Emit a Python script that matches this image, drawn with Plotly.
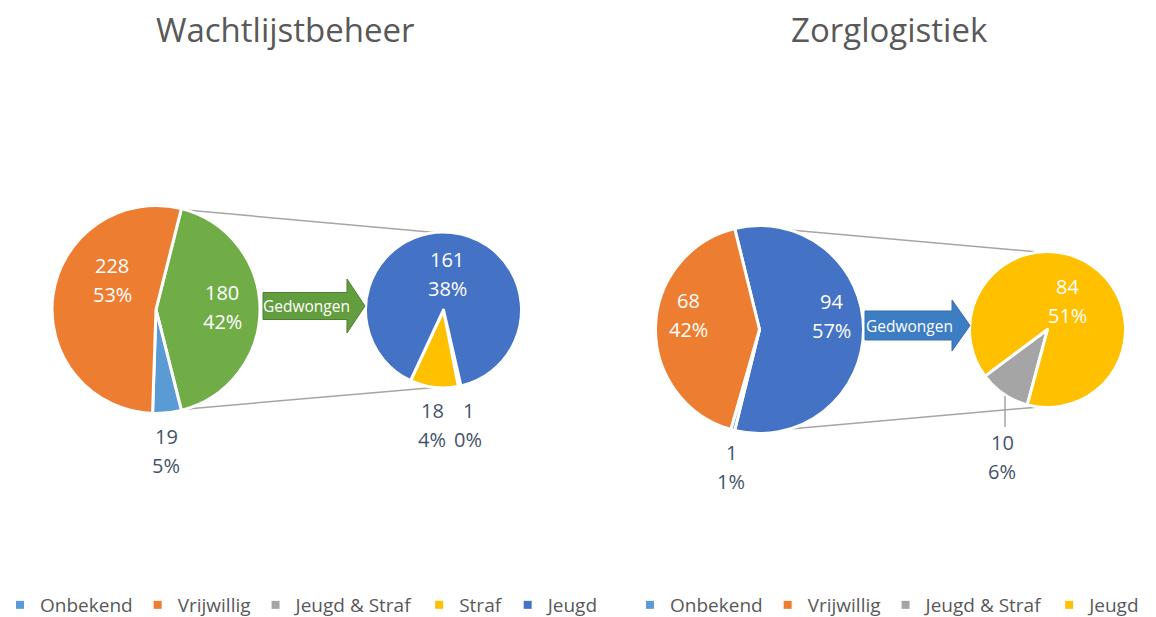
import math
import plotly.graph_objects as go

W, H = 1156, 617

# ---------------- DATA ----------------
titles = ["Wachtlijstbeheer", "Zorglogistiek"]
other_label = "Gedwongen"

l_main_labels = ["Gedwongen", "Onbekend", "Vrijwillig"]
l_main_values = [180, 19, 228]
l_main_pct = ["42%", "5%", "53%"]
l_sec_labels = ["Jeugd & Straf", "Straf", "Jeugd"]
l_sec_values = [1, 18, 161]
l_sec_pct = ["0%", "4%", "38%"]

r_main_labels = ["Gedwongen", "Onbekend", "Vrijwillig"]
r_main_values = [94, 1, 68]
r_main_pct = ["57%", "1%", "42%"]
r_sec_labels = ["Jeugd & Straf", "Jeugd"]
r_sec_values = [10, 84]
r_sec_pct = ["6%", "51%"]

legend_left = ["Onbekend", "Vrijwillig", "Jeugd & Straf", "Straf", "Jeugd"]
legend_right = ["Onbekend", "Vrijwillig", "Jeugd & Straf", "Jeugd"]

# ---------------- STYLE ----------------
colors_l = {"Onbekend": "#5B9BD5", "Vrijwillig": "#ED7D31", "Gedwongen": "#70AD47",
            "Jeugd & Straf": "#A5A5A5", "Straf": "#FFC000", "Jeugd": "#4472C4"}
colors_r = {"Onbekend": "#5B9BD5", "Vrijwillig": "#ED7D31", "Gedwongen": "#4472C4",
            "Jeugd & Straf": "#A5A5A5", "Jeugd": "#FFC000"}

FONT = "Open Sans"
GREY_TXT = "#595959"
DARK_TXT = "#44546A"

# pie geometry in pixels: centre x, centre y, radius
geo = {
    "l_main": (156, 309.5, 104),
    "l_sec": (443.5, 310, 78),
    "r_main": (759.5, 329.5, 104),
    "r_sec": (1047.5, 329.5, 78),
}
sec_rotation = {"l_sec": 167, "r_sec": 195}

# label block centres (px) and colours, per slice in the order of the data lists
lab_pos = {
    "l_main": [(222, 307, "white"), (166, 451, DARK_TXT), (112, 280, "white")],
    "l_sec": [(468, 425, DARK_TXT), (432, 425, DARK_TXT), (447, 274, "white")],
    "r_main": [(831, 316, "white"), (731, 467, DARK_TXT), (688, 315, "white")],
    "r_sec": [(1002, 457, DARK_TXT), (1067, 301, "white")],
}


def px(x):
    return x / W


def py(y):
    return 1 - y / H


def domain(key):
    cx, cy, r = geo[key]
    return dict(x=[px(cx - r), px(cx + r)], y=[py(cy + r), py(cy - r)])


def ann(x, y, text, size, color):
    return dict(x=px(x), y=py(y), xref="paper", yref="paper", text=text,
                showarrow=False, xanchor="center", yanchor="middle",
                font=dict(family=FONT, size=size, color=color))


fig = go.Figure()

charts = [
    ("l_main", l_main_labels, l_main_values, l_main_pct, colors_l, None),
    ("l_sec", l_sec_labels, l_sec_values, l_sec_pct, colors_l, sec_rotation["l_sec"]),
    ("r_main", r_main_labels, r_main_values, r_main_pct, colors_r, None),
    ("r_sec", r_sec_labels, r_sec_values, r_sec_pct, colors_r, sec_rotation["r_sec"]),
]

annotations = []
shapes = []

for key, labels, values, pct, cmap, rot in charts:
    if rot is None:
        # "other" slice centred on the 3 o'clock direction
        half = values[0] / sum(values) * 360 / 2
        rot = 90 - half
    fig.add_trace(go.Pie(
        labels=labels, values=values, sort=False, direction="clockwise",
        rotation=rot, domain=domain(key), textinfo="none", showlegend=False,
        marker=dict(colors=[cmap[l] for l in labels], line=dict(color="white", width=3)),
        hovertemplate="%{label}: %{value}<extra></extra>",
    ))
    for (lx, ly, col), v, p in zip(lab_pos[key], values, pct):
        annotations.append(ann(lx, ly - 14.5, str(v), 20, col))
        annotations.append(ann(lx, ly + 14.5, p, 20, col))

# connector lines between main and secondary pies
for mkey, skey, mvals in [("l_main", "l_sec", l_main_values), ("r_main", "r_sec", r_main_values)]:
    mcx, mcy, mr = geo[mkey]
    scx, scy, sr = geo[skey]
    half = min(mvals[0] / sum(mvals) * 360 / 2, 76)
    a = math.radians(half)
    for sgn in (1, -1):
        x0 = mcx + (mr - 1) * math.cos(a)
        y0 = mcy - sgn * (mr - 1) * math.sin(a)
        x1 = scx - 3
        y1 = scy - sgn * (sr - 1)
        shapes.append(dict(type="line", xref="paper", yref="paper",
                           x0=px(x0), y0=py(y0), x1=px(x1), y1=py(y1),
                           line=dict(color="#A5A5A5", width=1.5), layer="below"))

# leader line for the "10" label
shapes.append(dict(type="line", xref="paper", yref="paper",
                   x0=px(1005), y0=py(396), x1=px(1005), y1=py(427),
                   line=dict(color="#A5A5A5", width=1.5)))


def arrow_path(x0, x1, xh, yc, bh, hh):
    pts = [(x0, yc - bh / 2), (xh, yc - bh / 2), (xh, yc - hh / 2), (x1, yc),
           (xh, yc + hh / 2), (xh, yc + bh / 2), (x0, yc + bh / 2)]
    return "M " + " L ".join(f"{px(x):.5f},{py(y):.5f}" for x, y in pts) + " Z"


arrows = [
    (263, 365, 347, 306, 27, 54, "#629E3E", "#4F7F30"),
    (865, 970, 952, 325.5, 29, 51, "#3C7DC4", "#3A6EAE"),
]
for x0, x1, xh, yc, bh, hh, fill, line in arrows:
    shapes.append(dict(type="path", xref="paper", yref="paper",
                       path=arrow_path(x0, x1, xh, yc, bh, hh),
                       fillcolor=fill, line=dict(color=line, width=1)))
    annotations.append(ann((x0 + xh) / 2 + 1, yc, other_label, 15.5, "white"))

# titles
for t, tx in zip(titles, [285, 889]):
    annotations.append(ann(tx, 30, t, 33, GREY_TXT))

# legends (dummy marker traces so that the "Gedwongen" slice is left out, as in the original)
for name in legend_left:
    fig.add_trace(go.Scatter(x=[None], y=[None], mode="markers", name=name, legend="legend",
                             marker=dict(symbol="square", size=8, color=colors_l[name]),
                             hoverinfo="skip"))
for name in legend_right:
    fig.add_trace(go.Scatter(x=[None], y=[None], mode="markers", name=name, legend="legend2",
                             marker=dict(symbol="square", size=8, color=colors_r[name]),
                             hoverinfo="skip"))

leg_common = dict(orientation="h", yanchor="middle", xanchor="left",
                  font=dict(family=FONT, size=19, color=GREY_TXT),
                  bgcolor="rgba(0,0,0,0)", itemwidth=30, traceorder="normal")

fig.update_layout(
    width=W, height=H,
    margin=dict(l=0, r=0, t=0, b=0, autoexpand=False),
    paper_bgcolor="white", plot_bgcolor="white",
    xaxis=dict(visible=False), yaxis=dict(visible=False),
    legend=dict(x=0, y=py(605), **leg_common),
    legend2=dict(x=px(630), y=py(605), **leg_common),
    annotations=annotations,
    shapes=shapes,
    font=dict(family=FONT),
)

fig.write_html("out.html", config={"displayModeBar": False},
               post_script="document.body.style.margin='0';")
